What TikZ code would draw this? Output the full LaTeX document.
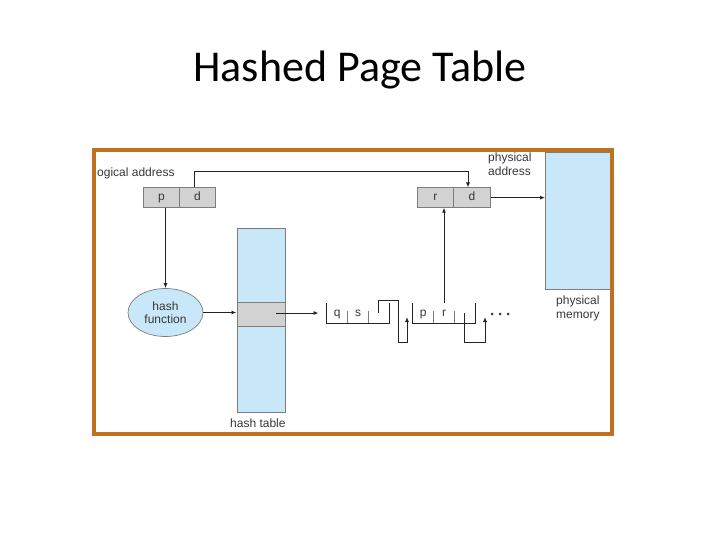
\documentclass[tikz,border=0pt]{standalone}
\usepackage{fontspec}
\setmainfont{Liberation Sans}
\newfontfamily\titlefont{Carlito}
\usetikzlibrary{arrows.meta,shapes.geometric,calc}
\definecolor{borderorange}{RGB}{192,112,30}
\definecolor{lightblue}{RGB}{200,231,249}
\definecolor{cellgray}{RGB}{210,210,210}
\definecolor{edgegray}{RGB}{125,125,125}
\definecolor{txtgray}{RGB}{55,55,55}
\definecolor{linedark}{RGB}{35,35,35}
\tikzset{
  lbl/.style={font=\fontsize{12}{13.5}\selectfont, text=txtgray, inner sep=0pt},
  cellbox/.style={draw=edgegray, fill=cellgray, line width=0.7pt, minimum height=19.5pt, inner sep=0pt, anchor=north west, font=\fontsize{12}{13}\selectfont, text=txtgray, text height=8.5pt, text depth=2pt},
  bluebox/.style={draw=edgegray, fill=lightblue, line width=0.7pt, inner sep=0pt, anchor=north west},
  conn/.style={draw=linedark, line width=0.9pt, -{Latex[length=5pt,width=4pt]}},
  chainwall/.style={draw=linedark, line width=0.9pt},
  chaindiv/.style={draw=edgegray, line width=0.8pt},
  chaincell/.style={minimum width=20.67pt, minimum height=20pt, inner sep=0pt, font=\fontsize{12}{13}\selectfont, text=txtgray, text height=8.5pt, text depth=2pt},
  dot/.style={circle, fill=txtgray, inner sep=0pt, minimum size=3pt}
}
\begin{document}
\begin{tikzpicture}[x=1pt,y=-1pt]
\useasboundingbox (0,0) rectangle (720,540);
% title
\node[font=\titlefont\fontsize{44}{50}\selectfont, anchor=base, inner sep=0pt] (title) at (360,82) {Hashed Page Table};
% physical memory
\node[bluebox, minimum width=66pt, minimum height=137pt] (physmem) at (545,152) {};
% border
\draw[draw=borderorange, line width=4pt] (94,150) rectangle (612,433.5);
% labels
\node[lbl, anchor=base west] (logaddr) at (97,177) {ogical address};
\node[lbl, anchor=north west, align=left, font=\fontsize{12}{14}\selectfont] (physaddr) at (488,152.5) {physical\\address};
\node[lbl, anchor=north west, align=left, font=\fontsize{12}{14}\selectfont] (physmemlbl) at (556,296) {physical\\memory};
% p d box
\node[cellbox, minimum width=36pt] (p) at (143,187.5) {p};
\node[cellbox, minimum width=36pt] (d) at (179,187.5) {d};
% r d box
\node[cellbox, minimum width=36pt] (r) at (417,187.5) {r};
\node[cellbox, minimum width=37pt] (d2) at (453,187.5) {d};
% hash function
\node[ellipse, draw=edgegray, fill=lightblue, line width=0.7pt, minimum width=75pt, minimum height=48pt, inner sep=0pt, align=center, font=\fontsize{12}{13.5}\selectfont, text=txtgray] (hashfn) at (165.5,312.5) {hash\\function};
% hash table
\node[bluebox, minimum width=48pt, minimum height=184pt] (htable) at (236.5,228) {};
\node[draw=edgegray, fill=cellgray, line width=0.7pt, inner sep=0pt, anchor=north west, minimum width=48pt, minimum height=24pt] (hrow) at (236.5,302) {};
\node[lbl, anchor=base west] (htlbl) at (230,427) {hash table};
% chain node 1
\node[chaincell] (n1q) at (337.33,313) {q};
\node[chaincell] (n1s) at (358,313) {s};
\node[chaincell] (n1n) at (378.67,313) {};
% chain node 2
\node[chaincell] (n2p) at (423.33,313) {p};
\node[chaincell] (n2r) at (444,313) {r};
\node[chaincell] (n2n) at (464.67,313) {};
% chain node outlines
\draw[chainwall] (n1q.north west) -- (n1q.south west) -- (n1n.south east) -- (n1n.north east);
\draw[chaindiv] (n1q.south east) -- ++(0,-12);
\draw[chaindiv] (n1s.south east) -- ++(0,-12);
\draw[chainwall] (n2p.north west) -- (n2p.south west) -- (n2n.south east) -- (n2n.north east);
\draw[chaindiv] (n2p.south east) -- ++(0,-12);
\draw[chaindiv] (n2r.south east) -- ++(0,-12);
% dots
\node[dot] (dot1) at (492,314) {};
\node[dot] (dot2) at (500,314) {};
\node[dot] (dot3) at (508,314) {};
% coordinates for connector bends
\coordinate (tl) at (194,171);
\coordinate (tr) at (468,171);
\coordinate (rowstart) at (276,313);
\coordinate (n1in) at (318.5,313);
\coordinate (b1a) at (378.67,300);
\coordinate (b1b) at (398,300);
\coordinate (b1c) at (398,342);
\coordinate (b1d) at (407,342);
\coordinate (tip1) at (407,317);
\coordinate (b2a) at (464.67,342);
\coordinate (b2b) at (485,342);
\coordinate (tip2) at (485,317);
% connectors
\draw[conn] (d.north -| tl) -- (tl) -- (tr) -- (d2.north -| tr);
\draw[conn] (d2.east) -- (physmem.west |- d2.east);
\draw[conn] (p.south -| hashfn.north) -- (hashfn.north);
\draw[conn] (hashfn.east) -- (htable.west |- hashfn.east);
\draw[conn] (rowstart) -- (n1in);
\draw[conn] (n1n.center) -- (b1a) -- (b1b) -- (b1c) -- (b1d) -- (tip1);
\draw[conn] (n2r.north) -- (r.south -| n2r.north);
\draw[conn] (n2n.center) -- (b2a) -- (b2b) -- (tip2);
\end{tikzpicture}
\end{document}
